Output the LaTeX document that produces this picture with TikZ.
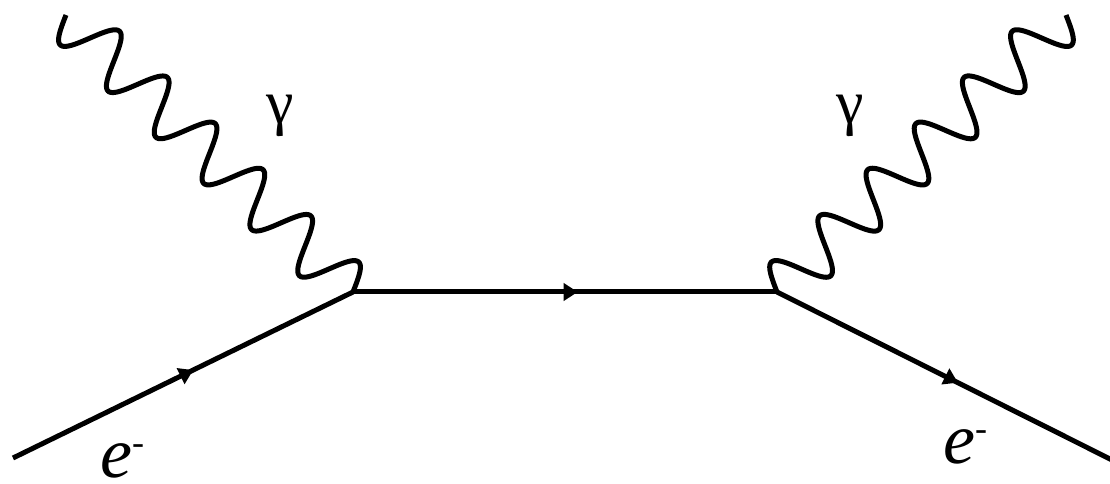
\documentclass[tikz,border=0pt]{standalone}
\usepackage{fontspec}
\setmainfont{Liberation Serif}
\usetikzlibrary{arrows.meta,decorations.markings}
\begin{document}
\begin{tikzpicture}[x=1pt,y=1pt,
  fermion/.style={line width=5pt, postaction={decorate},
    decoration={markings, mark=at position #1 with {\arrow{Triangle[length=14pt,width=17pt]}}}},
  fermion/.default=0.53,
  photon/.style={line width=5pt, line join=round},
  glbl/.style={inner sep=0pt, font=\fontsize{62}{62}\selectfont},
  elbl/.style={inner sep=0pt, anchor=base west, font=\fontsize{72}{72}\selectfont}]
\useasboundingbox (0,0) rectangle (1110,484);
% vertices and free ends
\coordinate (ein) at (13,26);
\coordinate (v1) at (353,192);
\coordinate (v2) at (777,192);
\coordinate (eout) at (1112,24);
\coordinate (g1) at (66,469);
\coordinate (g2) at (1066,469);
% fermion lines
\draw[fermion=0.53] (ein) -- (v1);
\draw[fermion=0.53] (v1) -- (v2);
\draw[fermion=0.54] (v2) -- (eout);
% photons
\begin{scope}[shift={(v1)},rotate=136.02]
  \draw[photon] plot[domain=0:398.87,samples=361,smooth] (\x,{-25.5*sin(5.41530*\x)});
\end{scope}
\begin{scope}[shift={(v2)},rotate=43.78]
  \draw[photon] plot[domain=0:400.31,samples=361,smooth] (\x,{25.5*sin(5.39582*\x)});
\end{scope}
% labels
\node[glbl] (gl1) at (280,368) {γ};
\node[glbl] (gl2) at (850,368) {γ};
\node[elbl] (el1) at (100,6) {\textit{e}\raisebox{23pt}{\fontsize{36}{36}\selectfont -}};
\node[elbl] (el2) at (943,20) {\textit{e}\raisebox{23pt}{\fontsize{36}{36}\selectfont -}};
\end{tikzpicture}
\end{document}
